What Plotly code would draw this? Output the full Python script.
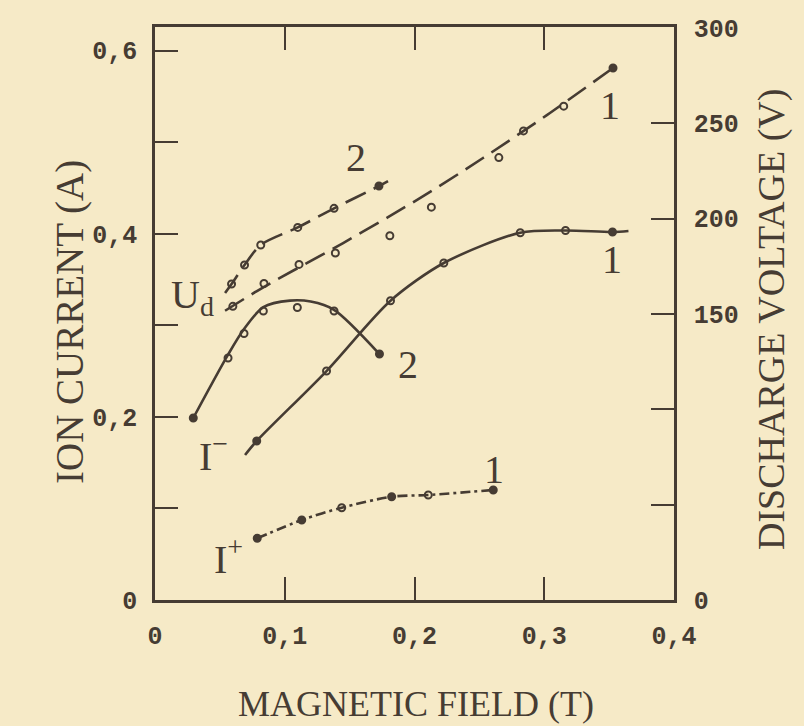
import plotly.graph_objects as go

# ---------------- data ----------------
# Discharge voltage U_d (right axis, V)
ud1_x = [0.060, 0.084, 0.111, 0.139, 0.181, 0.213, 0.265, 0.284, 0.315, 0.353]
ud1_v = [154, 166, 176, 182, 191, 206, 232, 246, 259, 279]
ud1_line_x = [0.054, 0.0825, 0.145, 0.1796, 0.212, 0.2528, 0.302, 0.353]
ud1_line_v = [151.7, 163.6, 187.2, 200.8, 214.0, 231.8, 254.3, 279.0]

ud2_x = [0.059, 0.069, 0.0815, 0.110, 0.138, 0.1726]
ud2_v = [165.7, 175.7, 186.2, 195.4, 205.4, 217.1]
ud2_line_x = [0.054, 0.059, 0.069, 0.0815, 0.110, 0.138, 0.1726, 0.1796]
ud2_line_v = [161.0, 165.7, 175.7, 186.2, 195.4, 205.4, 217.1, 219.7]

# Ion current I- (left axis, A)
im2_x = [0.0295, 0.0563, 0.0686, 0.0835, 0.1097, 0.138, 0.173]
im2_a = [0.1988, 0.2643, 0.2911, 0.3157, 0.3195, 0.3157, 0.2687]
im2_line_x = [0.0295, 0.0563, 0.0686, 0.0835, 0.1040, 0.1200, 0.138, 0.173]
im2_line_a = [0.1988, 0.2680, 0.2960, 0.3200, 0.3270, 0.3260, 0.3170, 0.2687]

im1_x = [0.0784, 0.1322, 0.1815, 0.2226, 0.2815, 0.3164, 0.3526]
im1_a = [0.1737, 0.2501, 0.3269, 0.3681, 0.4012, 0.4036, 0.4020]
im1_line_x = [0.0694, 0.0784, 0.1322, 0.1815, 0.2226, 0.2815, 0.3164, 0.3526, 0.3649]
im1_line_a = [0.1584, 0.1737, 0.2501, 0.3269, 0.3681, 0.4012, 0.4036, 0.4020, 0.4031]

# Ion current I+ (left axis, A)
ip1_x = [0.0788, 0.1131, 0.1439, 0.1824, 0.2106, 0.2607]
ip1_a = [0.0674, 0.0874, 0.1008, 0.1128, 0.1147, 0.1202]

# axes ticks
x_ticks = [0, 0.1, 0.2, 0.3, 0.4]
x_ticktext = ["0", "0,1", "0,2", "0,3", "0,4"]
yl_ticks = [0, 0.2, 0.4, 0.6]
yl_ticktext = ["0", "0,2", "0,4", "0,6"]
yl_minor_step = 0.1
yr_ticks = [0, 150, 200, 250, 300]
yr_ticktext = ["0", "150", "200", "250", "300"]
yr_minor_step = 50

# ---------------- styling ----------------
INK = "#463c33"
BG = "#f6eac7"
SERIF = "Liberation Serif, Times New Roman, serif"
MONO = "Liberation Mono, Courier New, monospace"
LW = 2.6

# plot-area box in page pixels
L, R, T, B = 155, 674, 27, 600
W, H = 804, 726

fig = go.Figure()

def line(x, y, dash, axis="y", shape="spline"):
    fig.add_trace(go.Scatter(x=x, y=y, mode="lines", yaxis=axis,
                             line=dict(color=INK, width=LW, dash=dash, shape=shape, smoothing=0.8),
                             showlegend=False, hoverinfo="skip"))

def marks(x, y, axis="y", filled=()):
    sym = ["circle" if i in filled else "circle-open" for i in range(len(x))]
    fig.add_trace(go.Scatter(x=x, y=y, mode="markers", yaxis=axis,
                             marker=dict(symbol=sym, size=7, color=INK, line=dict(color=INK, width=2)),
                             showlegend=False))

UD_DASH = "22px,9px"
line(ud1_line_x, ud1_line_v, UD_DASH, "y2")
marks(ud1_x, ud1_v, "y2", filled=(9,))
line(ud2_line_x, ud2_line_v, UD_DASH, "y2")
marks(ud2_x, ud2_v, "y2", filled=(5,))

line(im2_line_x, im2_line_a, "solid")
marks(im2_x, im2_a, filled=(0, 6))
line(im1_line_x, im1_line_a, "solid")
marks(im1_x, im1_a, filled=(0, 6))

line(ip1_x, ip1_a, "10px,4px,3px,4px")
marks(ip1_x, ip1_a, filled=(0, 1, 3, 5))

# ---------------- curve labels ----------------
def label(text, x, y, size=40, yref="y"):
    fig.add_annotation(text=text, x=x, y=y, xref="x", yref=yref, showarrow=False,
                       xanchor="center", yanchor="middle",
                       font=dict(family=SERIF, size=size, color=INK))

label("2", 0.155, 0.483)
label("1", 0.351, 0.540)
label("U<sub>d</sub>", 0.029, 0.331)
label("1", 0.352, 0.372)
label("2", 0.195, 0.257)
label("I<sup>\u2212</sup>", 0.045, 0.160)
label("1", 0.261, 0.143)
label("I<sup>+</sup>", 0.057, 0.047)

# ---------------- axis titles ----------------
def ptitle(text, px, py, angle=0, size=36):
    fig.add_annotation(text=text, xref="paper", yref="paper",
                       x=(px - L) / (R - L), y=(B - py) / (B - T),
                       xanchor="center", yanchor="middle", textangle=angle,
                       showarrow=False, font=dict(family=SERIF, size=size, color=INK))

ptitle("MAGNETIC FIELD (T)", 416, 704, 0, 36)
ptitle("ION CURRENT (A)", 70, 322, -90, 39)
ptitle("DISCHARGE VOLTAGE (V)", 771, 320, -90, 38)

TICKFONT = dict(family=MONO, size=25, color=INK, weight="bold")
common = dict(showline=True, linewidth=2.5, linecolor=INK, ticks="inside", ticklen=23,
              tickwidth=2.2, tickcolor=INK, showgrid=False, zeroline=False, tickfont=TICKFONT,
              tickmode="array", fixedrange=True)
MINOR = dict(ticks="inside", ticklen=23, tickwidth=2.2, tickcolor=INK, showgrid=False)

fig.update_layout(
    width=W, height=H,
    margin=dict(l=L, r=W - R, t=T, b=H - B),
    paper_bgcolor=BG, plot_bgcolor=BG,
    xaxis=dict(range=[0, 0.4], tickvals=x_ticks, ticktext=x_ticktext, mirror="ticks",
               ticklabelstandoff=11, **common),
    yaxis=dict(range=[0, 0.6259], tickvals=yl_ticks, ticktext=yl_ticktext,
               ticklabelstandoff=10, minor=dict(tick0=0, dtick=yl_minor_step, **MINOR), **common),
    yaxis2=dict(range=[0, 300.5], tickvals=yr_ticks, ticktext=yr_ticktext, overlaying="y",
                side="right", ticklabelstandoff=12,
                minor=dict(tick0=0, dtick=yr_minor_step, **MINOR), **common),
    showlegend=False,
)

fig.write_html("out.html", config={"displayModeBar": False},
               post_script="document.body.style.margin='0';document.body.style.background='%s';" % BG)
